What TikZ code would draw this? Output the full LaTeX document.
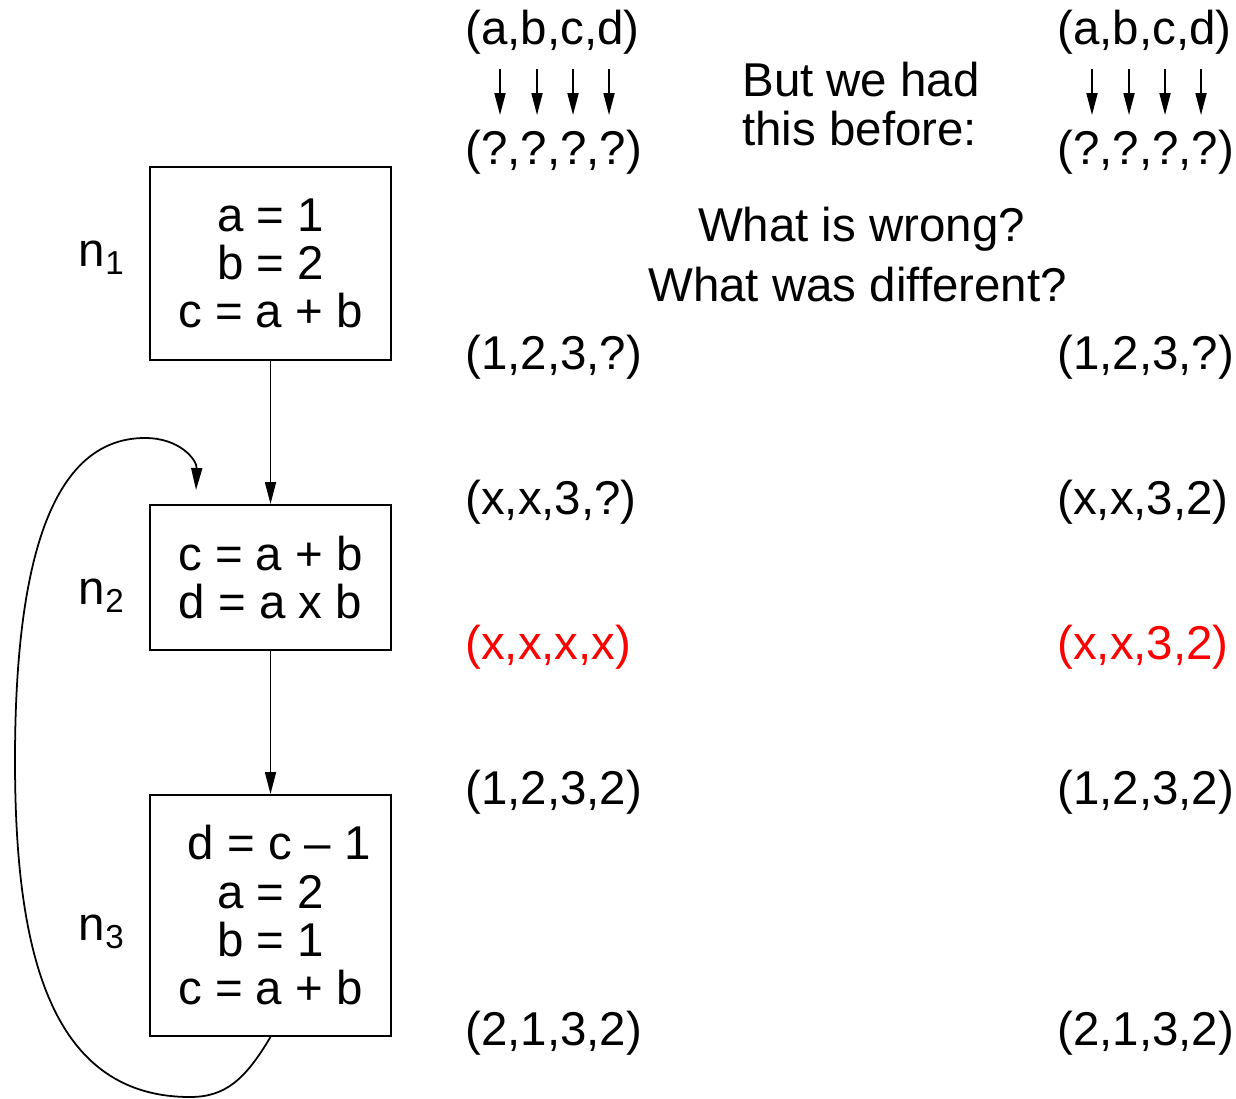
\documentclass[tikz,border=0pt]{standalone}
\usepackage{fontspec}
\setmainfont{Liberation Sans}
\usetikzlibrary{arrows.meta,positioning,calc}

\begin{document}
\begin{tikzpicture}[
  font=\fontsize{27}{27.5}\selectfont,
  >={Triangle[length=4.4mm,width=2.2mm]},
  blk/.style={draw, line width=1.1pt, minimum width=4.82cm, align=center, inner sep=0pt},
  lbl/.style={anchor=base east, inner sep=0pt},
  tup/.style={anchor=west, inner sep=0pt},
  arr/.style={->, line width=1pt}
]
\useasboundingbox (0,0) rectangle (24.72,-21.98);

% flow graph
\node[blk, minimum height=3.86cm] (n1) at (5.41,-5.27) {a = 1\\b = 2\\c = a + b};
\node[blk, minimum height=2.9cm] (n2) at (5.41,-11.55) {c = a + b\\d = a x b};
\node[blk, minimum height=4.82cm] (n3) at (5.41,-18.31) {\hspace*{0.35cm}d = c – 1\\a = 2\\b = 1\\c = a + b};

\node[lbl] (l1) at (2.5,-5.34) {n\textsubscript{1}};
\node[lbl] (l2) at (2.5,-12.08) {n\textsubscript{2}};
\node[lbl] (l3) at (2.5,-18.8) {n\textsubscript{3}};

\draw[arr] (n1) -- (n2);
\draw[arr] (n2) -- (n3);

% back edge
\coordinate (n2in) at ([xshift=0.94cm,yshift=0.28cm]n2.north west);
\draw[arr] (n3.south) .. controls (4.9,-21.6) and (4.5,-21.94) .. (3.8,-21.94)
  .. controls (0.9,-21.94) and (0.3,-18.8) .. (0.3,-15.2)
  .. controls (0.3,-10.8) and (1.2,-8.76) .. (2.9,-8.76)
  .. controls (3.6,-8.76) and (3.94,-9.2) .. (n2in);

% first run
\node[tup] (la) at (9.3,-0.64) {(a,b,c,d)};
\node[tup] (lq) at (9.3,-3.04) {(?,?,?,?)};
\node[tup] (l1r) at (9.3,-7.14) {(1,2,3,?)};
\node[tup] (l2r) at (9.3,-10.04) {(x,x,3,?)};
\node[tup, text=red] (l3r) at (9.3,-12.94) {(x,x,x,x)};
\node[tup] (l4r) at (9.3,-15.84) {(1,2,3,2)};
\node[tup] (l5r) at (9.3,-20.66) {(2,1,3,2)};

% second run
\node[tup] (ra) at (21.14,-0.64) {(a,b,c,d)};
\node[tup] (rq) at (21.14,-3.04) {(?,?,?,?)};
\node[tup] (r1r) at (21.14,-7.14) {(1,2,3,?)};
\node[tup] (r2r) at (21.14,-10.04) {(x,x,3,2)};
\node[tup, text=red] (r3r) at (21.14,-12.94) {(x,x,3,2)};
\node[tup] (r4r) at (21.14,-15.84) {(1,2,3,2)};
\node[tup] (r5r) at (21.14,-20.66) {(2,1,3,2)};

\foreach \s in {l,r}
  \foreach \dx in {0.7,1.44,2.16,2.88}
    \draw[arr, shorten <=0.3cm, shorten >=0.29cm]
      ([xshift=\dx cm]\s a.south west) -- ([xshift=\dx cm]\s q.north west);

% remarks
\node[anchor=west, align=left, inner sep=0pt] (had) at (14.84,-2.08) {But we had\\this before:};
\node[anchor=base] (wrong) at (17.23,-4.84) {What is wrong?};
\node[anchor=base] (diff) at (17.15,-6.04) {What was different?};

\end{tikzpicture}
\end{document}
